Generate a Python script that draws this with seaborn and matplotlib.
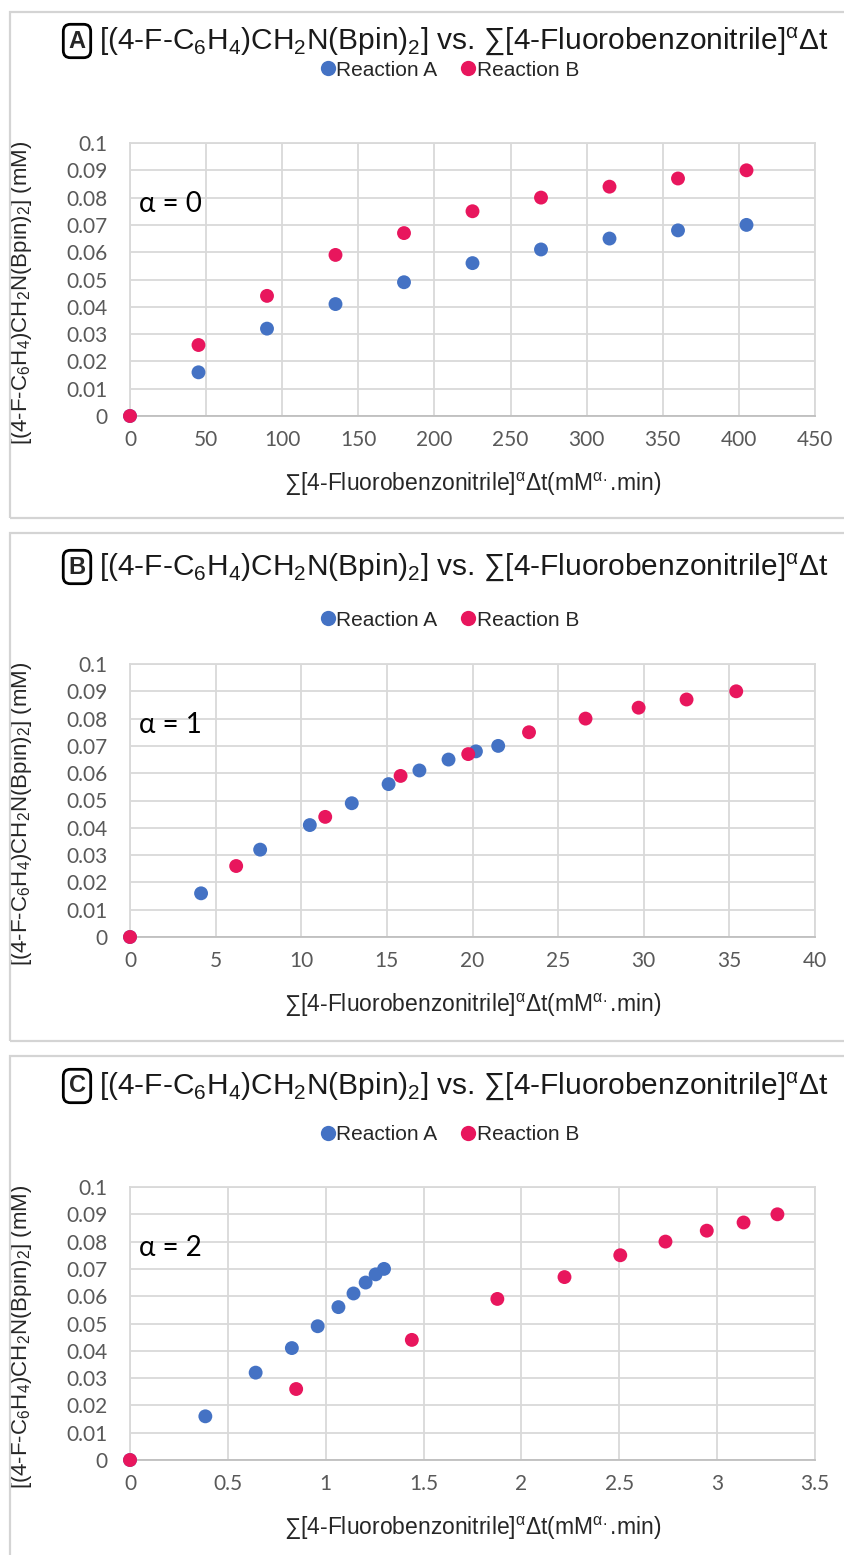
import matplotlib
matplotlib.use("Agg")
import matplotlib.pyplot as plt
import seaborn as sns
import pandas as pd
from matplotlib.patches import Rectangle

sns.set_theme(style="whitegrid")
plt.rcParams['font.family'] = ['Liberation Sans', 'DejaVu Sans']
plt.rcParams['mathtext.fontset'] = 'custom'
plt.rcParams['mathtext.rm'] = 'Liberation Sans'
plt.rcParams['mathtext.it'] = 'Liberation Sans'
plt.rcParams['mathtext.bf'] = 'Liberation Sans:bold'

# ---------------- data ----------------
series_names = ["Reaction A", "Reaction B"]
y_reaction_a = [0, 0.016, 0.032, 0.041, 0.049, 0.056, 0.061, 0.065, 0.068, 0.070]
y_reaction_b = [0, 0.026, 0.044, 0.059, 0.067, 0.075, 0.080, 0.084, 0.087, 0.090]

# alpha = 0
x_a0 = [0, 45, 90, 135, 180, 225, 270, 315, 360, 405]
x_b0 = [0, 45, 90, 135, 180, 225, 270, 315, 360, 405]
# alpha = 1
x_a1 = [0, 4.15, 7.6, 10.5, 12.95, 15.1, 16.9, 18.6, 20.2, 21.5]
x_b1 = [0, 6.2, 11.4, 15.8, 19.75, 23.3, 26.6, 29.7, 32.5, 35.4]
# alpha = 2
x_a2 = [0, 0.385, 0.642, 0.827, 0.959, 1.065, 1.142, 1.204, 1.255, 1.298]
x_b2 = [0, 0.849, 1.44, 1.877, 2.22, 2.505, 2.736, 2.947, 3.135, 3.308]

panel_letters = ["A", "B", "C"]
alpha_labels = ["α = 0", "α = 1", "α = 2"]
x_limits = [(0, 450), (0, 40), (0, 3.5)]
x_steps = [50, 5, 0.5]
x_tick_labels = [
    ["0", "50", "100", "150", "200", "250", "300", "350", "400", "450"],
    ["0", "5", "10", "15", "20", "25", "30", "35", "40"],
    ["0", "0.5", "1", "1.5", "2", "2.5", "3", "3.5"],
]
y_ticks = [0, 0.01, 0.02, 0.03, 0.04, 0.05, 0.06, 0.07, 0.08, 0.09, 0.1]
y_tick_labels = ["0", "0.01", "0.02", "0.03", "0.04", "0.05", "0.06", "0.07", "0.08", "0.09", "0.1"]

title_text = r"[(4-F-C$_6$H$_4$)CH$_2$N(Bpin)$_2$] vs. ∑[4-Fluorobenzonitrile]$^{\mathrm{α}}$Δt"
xlabel_text = r"∑[4-Fluorobenzonitrile]$^{\mathrm{α}}$Δt(mM$^{\mathrm{α.}}$.min)"
ylabel_text = r"[(4-F-C$_6$H$_4$)CH$_2$N(Bpin)$_2$] (mM)"

colors = {"Reaction A": "#4472C4", "Reaction B": "#E8165D"}

W, H = 844, 1555
fig = plt.figure(figsize=(W / 100, H / 100), dpi=100)
fig.patch.set_facecolor("white")

def fx(px):
    return px / W

def fy(py):
    return 1 - py / H

box_tops = [12, 533, 1056]
box_bottoms = [518, 1041, 1575]
title_y = [41, 567, 1086]
legend_y = [70, 620, 1135]
plot_top_off = 131
plot_h = 273

data_x = [(x_a0, x_b0), (x_a1, x_b1), (x_a2, x_b2)]

for i in range(3):
    bt, bb = box_tops[i], box_bottoms[i]
    fig.patches.append(Rectangle((fx(10), fy(bb)), fx(900), (bb - bt) / H,
                                 transform=fig.transFigure, facecolor="none",
                                 edgecolor="#d4d4d4", lw=1.6, zorder=0))
    top = bt + plot_top_off
    bottom = top + plot_h
    ax = fig.add_axes([fx(130), fy(bottom), fx(815 - 130), plot_h / H])

    xa, xb = data_x[i]
    df = pd.DataFrame({
        "x": list(xa) + list(xb),
        "y": list(y_reaction_a) + list(y_reaction_b),
        "series": [series_names[0]] * len(xa) + [series_names[1]] * len(xb),
    })
    sns.scatterplot(data=df, x="x", y="y", hue="series", palette=colors, ax=ax,
                    s=100, edgecolor="none", linewidth=0, legend=False,
                    clip_on=False, zorder=3)

    x0, x1 = x_limits[i]
    ax.set_xlim(x0, x1)
    ax.set_ylim(0, 0.1)
    xt = [x0 + k * x_steps[i] for k in range(len(x_tick_labels[i]))]
    ax.set_xticks(xt)
    ax.set_xticklabels(x_tick_labels[i])
    ax.set_yticks(y_ticks)
    ax.set_yticklabels(y_tick_labels)
    ax.grid(True, color="#d9d9d9", lw=1.3)
    ax.set_axisbelow(True)
    for name, sp in ax.spines.items():
        sp.set_visible(True)
        sp.set_color("#d9d9d9")
        sp.set_linewidth(1.3)
    ax.spines["bottom"].set_color("#bfbfbf")
    ax.tick_params(axis="x", length=0, labelsize=15, labelcolor="#595959", pad=10)
    ax.tick_params(axis="y", length=0, labelsize=15, labelcolor="#595959", pad=16)
    for lab in ax.get_xticklabels() + ax.get_yticklabels():
        lab.set_family(["Lato", "DejaVu Sans"])
    ax.set_facecolor("white")

    ax.set_xlabel(xlabel_text, fontsize=16.5, color="#262626")
    ax.xaxis.set_label_coords(0.5, -0.2)
    ax.set_ylabel(ylabel_text, fontsize=16, color="#262626")
    ax.yaxis.set_label_coords(-0.14, 0.45)

    ax.text(0.013, 0.775, alpha_labels[i], transform=ax.transAxes, fontsize=20,
            ha="left", va="center", color="black", family=["Lato", "DejaVu Sans"])

    # panel letter box
    fig.text(fx(77), fy(title_y[i]), panel_letters[i], fontsize=17, fontweight="bold",
             ha="center", va="center",
             bbox=dict(boxstyle="round,pad=0.22,rounding_size=0.3", fc="white",
                       ec="black", lw=2.0))
    fig.text(fx(99), fy(title_y[i]), title_text, fontsize=21.5, ha="left",
             va="center", color="#1a1a1a")

    # legend
    handles = [plt.Line2D([], [], marker="o", ls="none", ms=11,
                          color=colors[n], mec="none") for n in series_names]
    fig.legend(handles, series_names, loc="center", ncol=2,
               bbox_to_anchor=(fx(447), fy(legend_y[i])), frameon=False,
               fontsize=15, handletextpad=-0.2, columnspacing=0.9,
               handlelength=1.2)

fig.savefig("out.png", dpi=100, facecolor="white")
